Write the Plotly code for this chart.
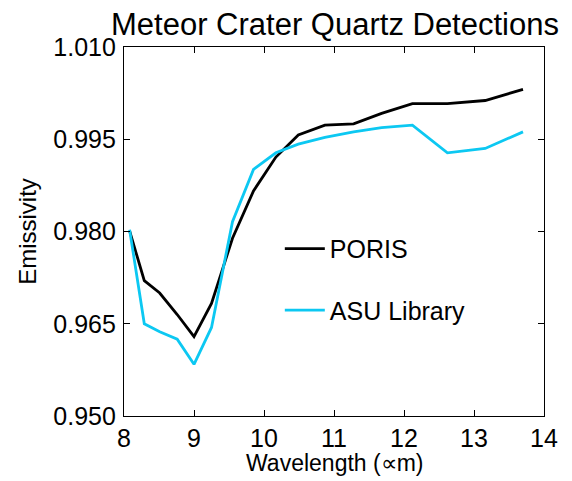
import plotly.graph_objects as go

wavelength = [8.08, 8.29, 8.51, 8.76, 9.00, 9.25, 9.55, 9.85, 10.17, 10.49,
              10.87, 11.28, 11.68, 12.12, 12.62, 13.16, 13.70]
poris = [0.9801, 0.9720, 0.9700, 0.9665, 0.9629, 0.9683, 0.9789, 0.9866, 0.9921, 0.9957,
         0.9973, 0.9975, 0.9992, 1.0008, 1.0008, 1.0013, 1.0031]
asu = [0.9803, 0.9650, 0.9637, 0.9625, 0.9584, 0.9644, 0.9816, 0.9901, 0.9928, 0.9942,
       0.9953, 0.9962, 0.9969, 0.9973, 0.9928, 0.9935, 0.9962]

y_ticks = [0.950, 0.965, 0.980, 0.995, 1.010]
x_ticks = [8, 9, 10, 11, 12, 13, 14]

FONT = "Liberation Sans, Arial, Helvetica, sans-serif"

fig = go.Figure()
fig.add_trace(go.Scatter(x=wavelength, y=poris, mode="lines", name="PORIS",
                         legendgroup="a",
                         line=dict(color="black", width=2.8)))
fig.add_trace(go.Scatter(x=wavelength, y=asu, mode="lines", name="ASU Library",
                         legendgroup="b",
                         line=dict(color="#0CC8F2", width=2.8)))

axis_common = dict(showline=True, linecolor="black", linewidth=1.3, mirror="ticks",
                   ticks="inside", ticklen=6, tickwidth=1.3, tickcolor="black",
                   showgrid=False, zeroline=False, automargin=False,
                   tickfont=dict(family=FONT, size=25, color="black"))

# page body adds an 8px offset, so the figure is 8px smaller on each axis
fig.update_layout(
    width=564, height=473,
    paper_bgcolor="white", plot_bgcolor="white",
    margin=dict(l=116, r=28, t=39, b=65, autoexpand=False),
    title=dict(text="Meteor Crater Quartz Detections", x=0.5798, xanchor="center",
               y=0.966, yanchor="middle",
               font=dict(family=FONT, size=31, color="black")),
    xaxis=dict(range=[8, 14], tickvals=x_ticks, ticktext=[str(v) for v in x_ticks],
               **axis_common),
    yaxis=dict(range=[0.950, 1.010], tickvals=y_ticks,
               ticktext=["%.3f" % v for v in y_ticks], ticklabelstandoff=2,
               title=dict(text="Emissivity", standoff=9,
                          font=dict(family=FONT, size=24, color="black")),
               **axis_common),
    legend=dict(x=0.371, y=0.515, xanchor="left", yanchor="top",
                bgcolor="rgba(0,0,0,0)", tracegroupgap=26, itemwidth=40,
                font=dict(family=FONT, size=25, color="black")),
    showlegend=True,
    annotations=[dict(text="Wavelength (∝m)", xref="paper", yref="paper",
                      x=0.5, y=-0.1274, xanchor="center", yanchor="middle",
                      showarrow=False,
                      font=dict(family=FONT, size=23, color="black"))],
)

fig.write_html("out.html")
